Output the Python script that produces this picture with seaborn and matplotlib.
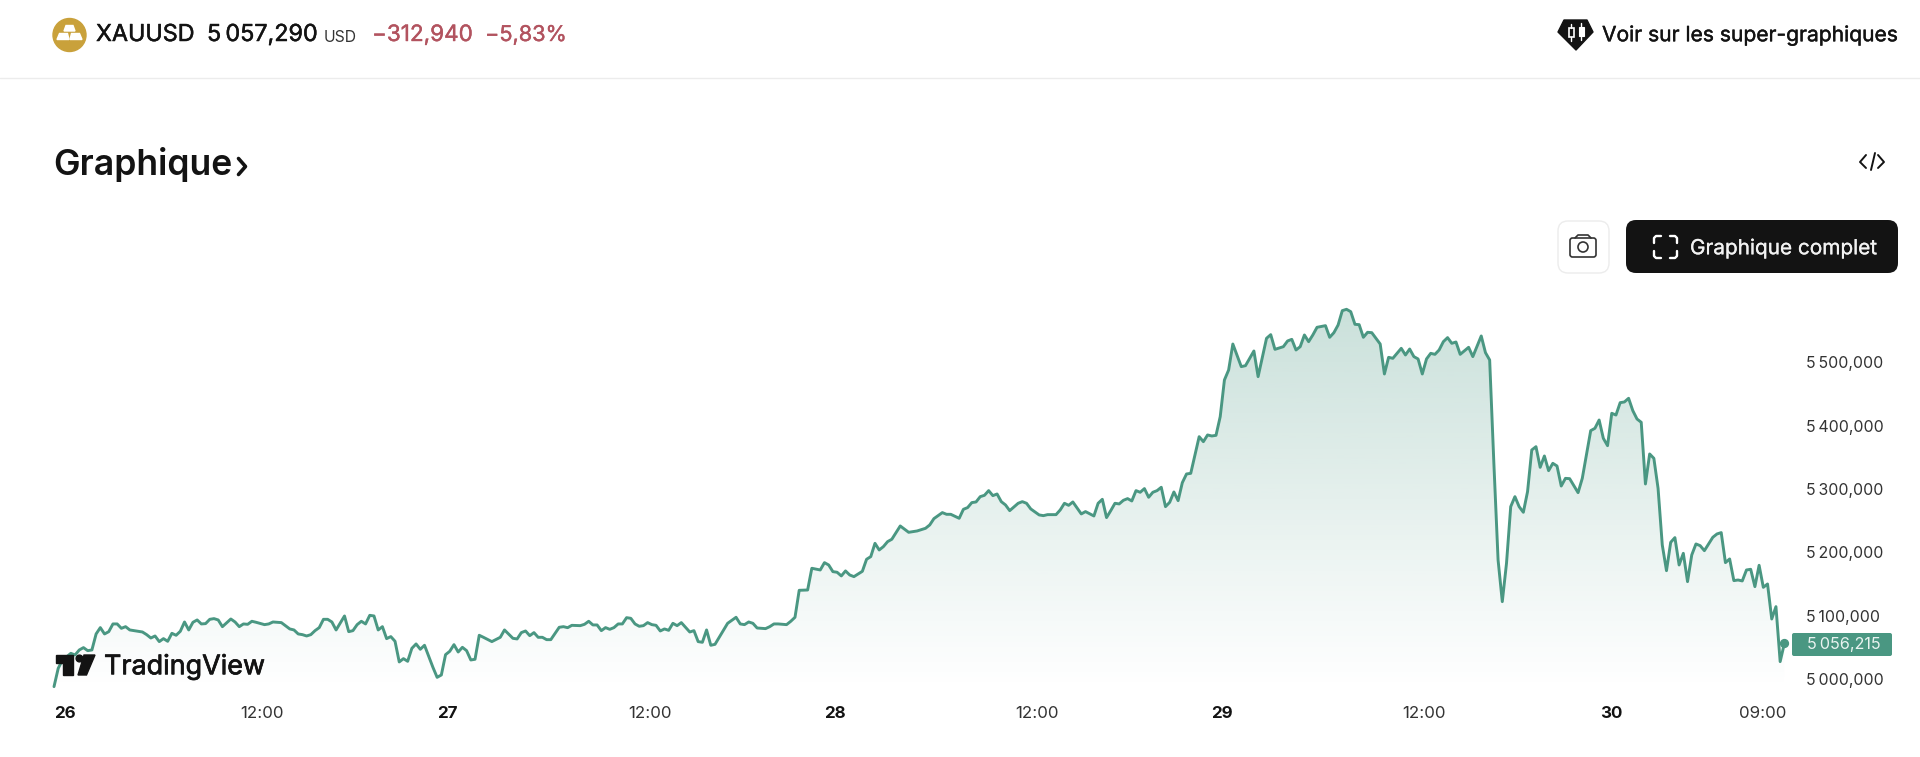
#!/usr/bin/env python3
# coding=utf-8
from matplotlib import pyplot as plt
from matplotlib import patheffects as pe
from matplotlib.patches import Circle, FancyBboxPatch, Polygon, Rectangle
import numpy as np
import pandas as pd
import seaborn as sns

# 15 min bars, the x axis has no session gaps
bars = [0, 1, 2, 3, 4, 5, 6, 7, 8, 9, 10, 11, 12, 13, 14, 15, 16, 17, 18, 20, 21, 22, 23, 24, 25, 26, 27, 28, 29, 30,
        31, 32, 33, 34, 35, 36, 37, 38, 39, 40, 42, 43, 44, 45, 46, 47, 48, 50, 51, 52, 54, 56, 57, 58, 59, 60, 61,
        62, 63, 64, 65, 66, 67, 69, 70, 71, 72, 73, 74, 75, 76, 77, 78, 79, 80, 81, 82, 83, 84, 85, 86, 87, 88, 90,
        91, 92, 93, 94, 95, 96, 97, 98, 99, 100, 101, 102, 104, 106, 107, 109, 110, 111, 112, 113, 114, 115, 116,
        117, 118, 120, 121, 122, 123, 125, 126, 127, 128, 129, 130, 131, 132, 133, 134, 135, 136, 137, 138, 139,
        140, 141, 142, 143, 144, 145, 146, 147, 148, 149, 151, 152, 153, 154, 155, 156, 157, 160, 162, 163, 164,
        165, 166, 167, 169, 170, 171, 172, 174, 175, 176, 177, 179, 180, 182, 183, 184, 185, 186, 187, 188, 189,
        190, 192, 193, 194, 195, 196, 197, 198, 199, 201, 203, 205, 207, 208, 209, 211, 212, 213, 215, 216, 217,
        218, 219, 220, 221, 222, 223, 224, 225, 226, 227, 229, 230, 231, 232, 234, 235, 236, 238, 239, 240, 241,
        242, 244, 245, 247, 248, 249, 250, 251, 252, 253, 254, 255, 256, 257, 258, 259, 260, 261, 262, 263, 264,
        265, 266, 267, 268, 269, 270, 272, 273, 274, 275, 276, 277, 278, 279, 280, 282, 283, 285, 286, 288, 289,
        290, 292, 293, 294, 295, 296, 297, 298, 299, 300, 302, 303, 304, 305, 306, 307, 308, 309, 310, 311, 312,
        313, 315, 316, 317, 318, 320, 321, 322, 323, 324, 325, 326, 327, 328, 329, 330, 331, 332, 333, 334, 336,
        337, 339, 340, 341, 342, 343, 344, 345, 346, 347, 348, 349, 350, 351, 352, 353, 354, 355, 356, 357, 358,
        359, 360, 362, 363, 365, 366, 367, 368, 369, 370, 371, 372, 373, 374, 375, 376, 377, 378, 379, 380, 381,
        382, 383, 384, 385, 386, 387, 388, 389, 390, 391, 392, 394, 395, 396, 397, 398, 399, 400, 401, 402, 403,
        404, 405, 406, 407, 408, 409, 410, 411]
prices = [4987.9, 5016.8, 5030.0, 5035.0, 5040.5, 5037.9, 5045.8, 5049.5, 5044.7, 5045.8, 5071.1, 5081.1, 5071.1,
          5074.7, 5086.9, 5086.9, 5080.0, 5082.6, 5077.4, 5075.3, 5074.2, 5070.0, 5064.7, 5067.9, 5059.0, 5063.7,
          5059.5, 5072.1, 5069.0, 5075.3, 5090.0, 5077.4, 5089.5, 5093.2, 5086.9, 5087.4, 5094.2, 5095.3, 5093.2,
          5082.6, 5094.7, 5090.0, 5082.6, 5086.9, 5086.3, 5091.1, 5089.5, 5085.8, 5086.9, 5090.0, 5089.0, 5079.0,
          5077.4, 5071.1, 5070.0, 5067.9, 5070.0, 5076.3, 5081.1, 5094.2, 5094.2, 5090.0, 5077.4, 5099.5, 5074.7,
          5076.3, 5085.8, 5091.1, 5086.9, 5100.5, 5099.5, 5077.4, 5082.6, 5063.7, 5066.9, 5059.5, 5026.9, 5032.1,
          5027.9, 5048.4, 5055.3, 5046.9, 5053.2, 5018.4, 5002.6, 5006.3, 5038.4, 5043.7, 5054.2, 5042.6, 5050.0,
          5044.7, 5030.0, 5031.1, 5069.0, 5065.8, 5059.0, 5065.8, 5077.4, 5064.2, 5063.2, 5073.2, 5075.8, 5068.4,
          5073.2, 5065.8, 5065.8, 5062.1, 5062.1, 5081.6, 5082.6, 5081.0, 5084.7, 5084.2, 5086.3, 5091.1, 5085.3,
          5085.3, 5076.3, 5081.1, 5078.4, 5081.1, 5086.9, 5086.9, 5096.8, 5095.8, 5086.9, 5083.2, 5084.2, 5089.0,
          5085.8, 5084.7, 5075.8, 5079.0, 5076.8, 5087.9, 5084.2, 5089.0, 5074.2, 5076.3, 5059.0, 5057.9, 5077.4,
          5053.2, 5054.7, 5087.9, 5097.4, 5086.9, 5085.8, 5090.0, 5087.9, 5080.5, 5079.5, 5082.6, 5086.9, 5086.9,
          5085.8, 5091.1, 5097.4, 5140.0, 5140.5, 5174.8, 5172.1, 5183.7, 5180.0, 5169.5, 5168.5, 5162.7, 5170.6,
          5164.2, 5161.6, 5170.0, 5189.0, 5193.2, 5214.2, 5203.7, 5209.0, 5216.9, 5220.6, 5241.6, 5231.6, 5233.7,
          5237.9, 5243.2, 5253.2, 5262.7, 5260.0, 5260.0, 5253.7, 5267.9, 5270.6, 5278.5, 5279.5, 5287.9, 5290.0,
          5297.4, 5289.5, 5292.1, 5280.0, 5274.8, 5265.8, 5277.4, 5280.0, 5277.4, 5268.5, 5259.0, 5257.9, 5259.5,
          5259.5, 5266.9, 5277.4, 5274.2, 5279.5, 5260.6, 5264.3, 5257.4, 5277.4, 5283.7, 5254.8, 5265.8, 5277.4,
          5276.4, 5282.1, 5284.8, 5281.1, 5297.4, 5294.8, 5300.6, 5286.9, 5294.8, 5297.4, 5302.7, 5272.1, 5279.0,
          5295.3, 5281.6, 5310.0, 5323.7, 5324.7, 5382.6, 5374.7, 5385.3, 5383.7, 5384.7, 5414.2, 5472.1, 5487.9,
          5528.9, 5493.2, 5494.7, 5517.9, 5477.4, 5537.9, 5543.7, 5520.5, 5524.7, 5533.7, 5536.3, 5519.5, 5524.7,
          5543.2, 5532.6, 5543.2, 5555.3, 5557.9, 5539.5, 5546.8, 5558.9, 5581.6, 5583.7, 5580.0, 5560.0, 5559.5,
          5539.5, 5547.4, 5546.8, 5528.9, 5481.6, 5507.9, 5506.3, 5522.1, 5511.6, 5521.0, 5509.0, 5505.3, 5481.6,
          5505.3, 5514.2, 5512.6, 5519.5, 5532.6, 5539.0, 5530.0, 5532.1, 5512.6, 5523.7, 5509.0, 5541.6, 5515.3,
          5503.7, 5340.5, 5187.9, 5122.1, 5182.6, 5272.1, 5287.9, 5272.1, 5263.2, 5295.8, 5361.6, 5366.8, 5334.2,
          5352.1, 5328.9, 5340.5, 5336.3, 5304.7, 5316.8, 5316.3, 5294.2, 5316.8, 5392.1, 5395.8, 5408.9, 5380.0,
          5368.4, 5419.5, 5416.8, 5436.3, 5437.4, 5443.2, 5423.7, 5410.5, 5405.3, 5307.9, 5355.3, 5348.4, 5301.0,
          5211.6, 5171.0, 5215.8, 5223.2, 5180.0, 5198.4, 5153.7, 5195.8, 5213.2, 5210.5, 5202.6, 5223.7, 5229.0,
          5231.1, 5183.7, 5189.5, 5155.3, 5156.3, 5154.8, 5172.1, 5173.2, 5145.8, 5179.5, 5144.7, 5150.0, 5094.7,
          5114.2, 5027.4, 5056.2]

x_tick_bars = [2.5, 49.5, 93.5, 141.5, 185.5, 233.5, 277.5, 325.5, 370, 405.8]
x_tick_labels = ['26', '12:00', '27', '12:00', '28', '12:00', '29', '12:00', '30', '09:00']
bold_ticks = ['26', '27', '28', '29', '30']
y_ticks = [5000, 5100, 5200, 5300, 5400, 5500]
y_tick_labels = ['5\u2009000,000', '5\u2009100,000', '5\u2009200,000', '5\u2009300,000', '5\u2009400,000',
                 '5\u2009500,000']
last_label = '5\u2009056,215'

GREEN = '#4a9782'
INK = '#131313'
RED = '#b2535f'

sns.set_theme(style='white')
plt.rcParams['font.family'] = ['Inter', 'DejaVu Sans']

fig = plt.figure(figsize=(19.2, 7.57), dpi=100, facecolor='white')

# graph part, pixel box 45..1805 x 290..700
W, H = 1920, 757
ax = fig.add_axes([45 / W, 1 - 700 / H, 1760 / W, 410 / H])
df = pd.DataFrame({'bar': bars, 'price': prices})
sns.lineplot(data=df, x='bar', y='price', ax=ax, color=GREEN, linewidth=2.1, errorbar=None, estimator=None)

# gradient under the line, clipped to the area
rgba = np.ones((256, 1, 4))
rgba[..., :3] = [74 / 255, 151 / 255, 130 / 255]
rgba[..., 3] = np.linspace(0.30, 0.0, 256)[:, None]
area = ax.fill_between(df['bar'], df['price'], 4985, color='none')
img = ax.imshow(rgba, extent=[-2.14, 415.9, 4985, 5600], origin='upper', aspect='auto', zorder=0)
img.set_clip_path(area.get_paths()[0], transform=ax.transData)
ax.set_xlim(-2.14, 415.9)
ax.set_ylim(4966.8, 5614.2)

ax.scatter([bars[-1]], [prices[-1]], s=32, color=GREEN, zorder=4)

sns.despine(ax=ax, left=True, bottom=True, right=True, top=True)
ax.set_xlabel('')
ax.set_ylabel('')
ax.patch.set_alpha(0)
ax.yaxis.tick_right()
ax.set_yticks(y_ticks)
ax.set_yticklabels(y_tick_labels, fontsize=11.4, color='#333333')
ax.set_xticks(x_tick_bars)
ax.set_xticklabels(x_tick_labels, fontsize=12.2, color='#333333')
ax.tick_params(axis='both', length=0, pad=1)
ax.tick_params(axis='x', pad=4)
for t in ax.get_xticklabels():
    if t.get_text() in bold_ticks:
        t.set_fontweight('bold')
        t.set_color(INK)

# page chrome, drawn in pixel coordinates
ui = fig.add_axes([0, 0, 1, 1], zorder=5)
ui.set_xlim(0, W)
ui.set_ylim(H, 0)
ui.axis('off')
ui.patch.set_alpha(0)


def txt(x, y, s, size, color=INK, ha='left', weight='normal', thick=0.0):
    t = ui.text(x, y, s, fontsize=size, color=color, ha=ha, va='center', fontweight=weight)
    if thick:
        # no medium cut of the font, so thicken the regular one a little
        t.set_path_effects([pe.withStroke(linewidth=thick, foreground=color)])


def stroke(xs, ys, color=INK, lw=1.4):
    ui.plot(xs, ys, color=color, lw=lw, solid_capstyle='round', solid_joinstyle='round')


ui.plot([0, W], [78, 78], color='#ececec', lw=1)

# gold icon
ui.add_patch(Circle((69.5, 35), 16.5, color='#c9a13b'))
for p in ([(66, 25.5), (73, 25.5), (75, 31), (64, 31)], [(59.5, 33.5), (67.5, 33.5), (69, 39.5), (57, 39.5)],
          [(71.5, 33.5), (79.5, 33.5), (82, 39.5), (70, 39.5)]):
    ui.add_patch(Polygon(p, color='white'))

txt(96, 35, 'XAUUSD', 16.8, thick=0.35)
txt(207, 35, '5\u2009057,290', 16.8, thick=0.35)
txt(324, 38, 'USD', 11.3, color='#333333')
txt(372, 35, '\u2212312,940', 16.2, color=RED, thick=0.3)
txt(485, 35, '\u22125,83%', 15.6, color=RED, thick=0.3)

txt(53, 164, 'Graphique', 25.6, weight='semibold')
stroke([238.5, 245.5, 238.5], [158.5, 166.5, 174.5], lw=2.6)

# super-graphiques badge
ui.add_patch(Polygon([(1564, 20), (1587, 20), (1593, 32), (1576, 50), (1558, 32)], color=INK, joinstyle='round'))
ui.add_patch(Rectangle((1568.5, 28), 5, 9, fc=INK, ec='white', lw=1.2))
stroke([1571, 1571], [24, 28], color='white', lw=1.0)
stroke([1571, 1571], [37, 41], color='white', lw=1.0)
ui.add_patch(Rectangle((1578.5, 27), 5, 9, fc='white', ec='white', lw=0.8))
stroke([1581, 1581], [23, 40], color='white', lw=1.0)
txt(1602, 35, 'Voir sur les super-graphiques', 15.15, thick=0.3)

# code icon
stroke([1866, 1860, 1866], [155, 162, 168])
stroke([1878, 1884, 1878], [155, 162, 168])
stroke([1871, 1875], [170, 153])

# camera button
ui.add_patch(FancyBboxPatch((1558, 221), 51, 52, boxstyle='round,pad=0,rounding_size=10', fc='white', ec='#ececec',
                            lw=1, mutation_aspect=1))
ui.add_patch(FancyBboxPatch((1570, 238), 26, 19, boxstyle='round,pad=0,rounding_size=2.5', fc='none', ec='#333333',
                            lw=1.2))
stroke([1575, 1578, 1588, 1591], [238, 235, 235, 238], color='#333333', lw=1.2)
ui.add_patch(Circle((1583, 247), 5, fc='none', ec='#333333', lw=1.2))

# full chart button
ui.add_patch(FancyBboxPatch((1636, 230), 252, 33, boxstyle='round,pad=10,rounding_size=10', fc=INK, ec='none'))
for cx, cy, sx, sy in ((1654, 236, 1, 1), (1677, 236, -1, 1), (1654, 258, 1, -1), (1677, 258, -1, -1)):
    stroke([cx, cx, cx + 2 * sx, cx + 7 * sx], [cy + 7 * sy, cy + 2 * sy, cy, cy], color='white', lw=1.7)
txt(1690, 248, 'Graphique complet', 14.95, color='#f2f2f2', thick=0.2)

# price label
ui.add_patch(FancyBboxPatch((1794, 635), 96, 19, boxstyle='round,pad=2,rounding_size=2', fc=GREEN, ec='none'))
txt(1844, 644, last_label, 11.7, color='#e9f3f0', ha='center')

# TradingView logo
ui.add_patch(Polygon([(56, 655), (72.5, 655), (72.5, 675), (62.5, 675), (62.5, 662.5), (56, 662.5)], color=INK))
ui.add_patch(Circle((79.5, 658.5), 3.4, color=INK))
ui.add_patch(Polygon([(84, 655), (95, 655), (86.5, 675), (78, 675)], color=INK))
txt(104, 667, 'TradingView', 19.4, thick=0.5)

fig.savefig('out.png', dpi=100, facecolor='white')
plt.close(fig)
